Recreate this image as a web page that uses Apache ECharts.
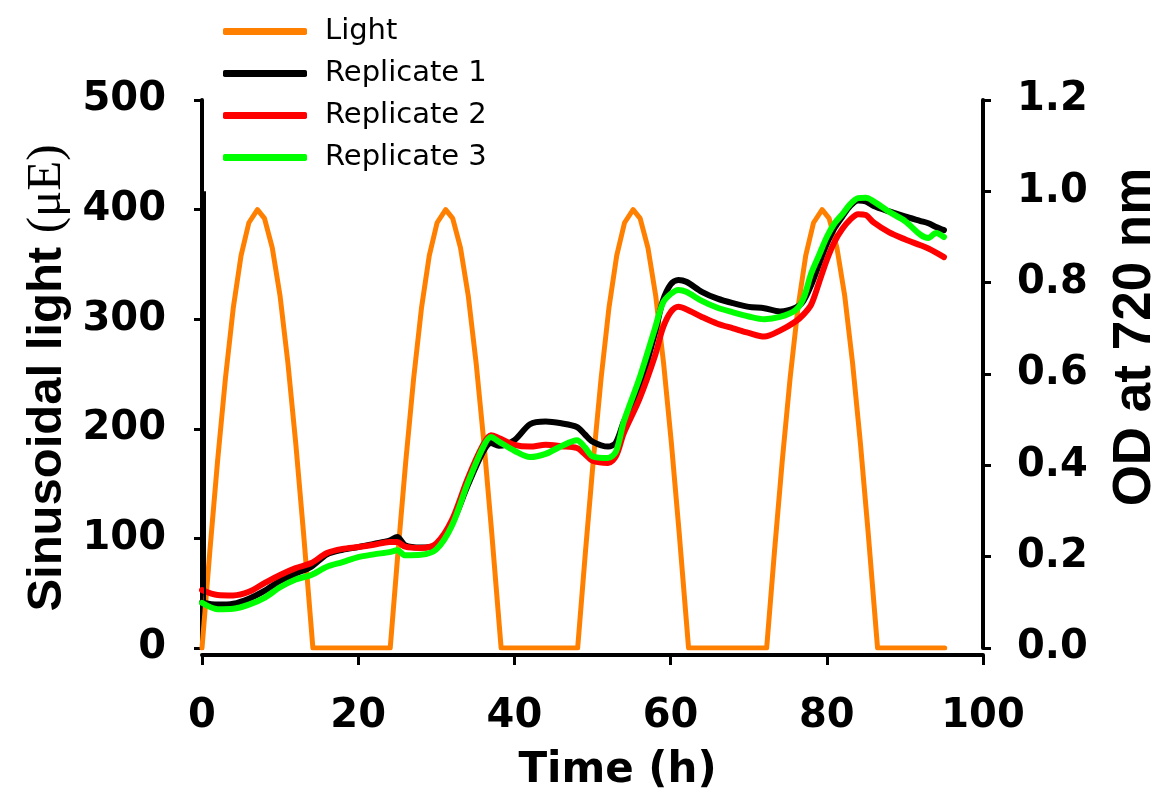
<!DOCTYPE html>
<html>
<head>
<meta charset="utf-8">
<script src="https://cdn.jsdelivr.net/npm/echarts@6/dist/echarts.min.js"></script>
<style>
html,body{margin:0;padding:0;background:#fff;overflow:hidden;}
#chart{width:1158px;height:806px;}
</style>
</head>
<body>
<div id="chart"></div>
<script>
// ---- Data ----
const seriesNames = ['Light', 'Replicate 1', 'Replicate 2', 'Replicate 3'];

// Light (µE) : time (h) and value
const lightTime = [0, 1, 2, 3, 4, 5, 6, 7.1, 8, 9, 10, 11, 12, 13, 14.2,
  24.1, 25.1, 26.1, 27.1, 28.1, 29.1, 30.1, 31.2, 32.1, 33.1, 34.1, 35.1, 36.1, 37.1, 38.3,
  48.1, 49.1, 50.1, 51.1, 52.1, 53.1, 54.1, 55.2, 56.1, 57.1, 58.1, 59.1, 60.1, 61.1, 62.3,
  72.3, 73.3, 74.3, 75.3, 76.3, 77.3, 78.3, 79.4, 80.3, 81.3, 82.3, 83.3, 84.3, 85.3, 86.5,
  95.1];
const lightValue = [0, 88, 171, 246, 310, 358, 388, 400, 392, 365, 321, 260, 187, 105, 0,
  0, 88, 171, 246, 310, 358, 388, 400, 392, 365, 321, 260, 187, 105, 0,
  0, 88, 171, 246, 310, 358, 388, 400, 392, 365, 321, 260, 187, 105, 0,
  0, 88, 171, 246, 310, 358, 388, 400, 392, 365, 321, 260, 187, 105, 0,
  0];

// OD at 720 nm : shared time grid (h)
const odTime = [0, 2, 4, 6, 8, 10, 12, 14, 16, 18, 20, 22, 24, 25, 26, 28, 30, 32, 34, 36, 37,
  38, 40, 42, 44, 46, 48, 49, 50, 52, 53, 54, 56, 58, 59, 60, 61, 62, 64, 66, 68, 70, 72,
  74, 76, 77, 78, 79, 80, 81, 82, 83, 84, 85, 86, 88, 90, 92, 93, 94, 95];
const rep1 = [0.100, 0.095, 0.097, 0.108, 0.125, 0.147, 0.163, 0.178, 0.205, 0.215, 0.221, 0.228, 0.235, 0.243, 0.225, 0.220, 0.225, 0.272, 0.355, 0.430, 0.449,
  0.443, 0.455, 0.490, 0.496, 0.492, 0.484, 0.468, 0.452, 0.441, 0.450, 0.495, 0.570, 0.690, 0.760, 0.796, 0.806, 0.802, 0.780, 0.765, 0.755, 0.747, 0.744,
  0.737, 0.745, 0.760, 0.795, 0.840, 0.885, 0.920, 0.945, 0.968, 0.980, 0.978, 0.968, 0.956, 0.945, 0.935, 0.930, 0.922, 0.915];
const rep2 = [0.127, 0.116, 0.115, 0.123, 0.142, 0.160, 0.175, 0.186, 0.208, 0.217, 0.221, 0.226, 0.232, 0.232, 0.222, 0.219, 0.229, 0.280, 0.370, 0.445, 0.466,
  0.460, 0.445, 0.441, 0.445, 0.442, 0.438, 0.425, 0.410, 0.405, 0.420, 0.470, 0.545, 0.640, 0.700, 0.735, 0.747, 0.742, 0.725, 0.710, 0.700, 0.690, 0.682,
  0.695, 0.715, 0.730, 0.752, 0.800, 0.850, 0.890, 0.918, 0.938, 0.950, 0.948, 0.932, 0.910, 0.895, 0.882, 0.875, 0.866, 0.856];
const rep3 = [0.099, 0.085, 0.086, 0.095, 0.110, 0.133, 0.150, 0.160, 0.178, 0.188, 0.199, 0.205, 0.210, 0.214, 0.203, 0.204, 0.216, 0.268, 0.360, 0.440, 0.462,
  0.452, 0.432, 0.418, 0.425, 0.442, 0.455, 0.440, 0.420, 0.416, 0.430, 0.495, 0.590, 0.700, 0.755, 0.775, 0.784, 0.780, 0.760, 0.745, 0.735, 0.726, 0.720,
  0.725, 0.740, 0.765, 0.820, 0.860, 0.900, 0.930, 0.950, 0.972, 0.985, 0.986, 0.978, 0.955, 0.935, 0.905, 0.898, 0.909, 0.900];

// Axis ticks
const xTicks = [0, 20, 40, 60, 80, 100];
const leftTicks = [0, 100, 200, 300, 400, 500];
const rightTicks = [0.0, 0.2, 0.4, 0.6, 0.8, 1.0, 1.2];

const colors = { light: '#FF8000', r1: '#000000', r2: '#FF0000', r3: '#00FF00' };

function pairs(xs, ys) { return xs.map((x, i) => [x, ys[i]]); }

const chart = echarts.init(document.getElementById('chart'), null, { renderer: 'canvas', width: 1158, height: 806 });

const labelFont = { fontFamily: 'DejaVu Sans', fontWeight: 'bold', fontSize: 40, color: '#000' };
const axisLine = { show: true, onZero: false, lineStyle: { color: '#000', width: 4, cap: 'round' } };

const option = {
  backgroundColor: '#fff',
  animation: false,
  grid: { left: 202, right: 175, top: 100, bottom: 158, containLabel: false, outerBoundsMode: 'none' },
  legend: {
    data: seriesNames,
    orient: 'vertical',
    left: 218, top: 12,
    itemWidth: 84, itemHeight: 7, itemGap: 13,
    icon: 'roundRect',
    textStyle: { fontFamily: 'DejaVu Sans', fontSize: 29, color: '#000', padding: [0, 0, 0, 13] }
  },
  xAxis: {
    type: 'value', min: xTicks[0], max: xTicks[xTicks.length - 1], interval: 20,
    offset: 7,
    axisLine: axisLine,
    axisTick: { show: true, inside: false, length: 10, lineStyle: { color: '#000', width: 3 } },
    axisLabel: Object.assign({ margin: 42 }, labelFont),
    splitLine: { show: false },
    name: 'Time (h)', nameLocation: 'middle', nameGap: 95,
    nameTextStyle: { fontFamily: 'DejaVu Sans', fontWeight: 'bold', fontSize: 42, color: '#000', padding: [0, 0, 0, 50] }
  },
  yAxis: [
    {
      type: 'value', position: 'left', min: leftTicks[0], max: leftTicks[leftTicks.length - 1], interval: 100,
      axisLine: axisLine,
      axisTick: { show: true, inside: false, length: 8, lineStyle: { color: '#000', width: 3 } },
      axisLabel: Object.assign({ margin: 36 }, labelFont),
      splitLine: { show: false },
      name: 'Sinusoidal light {s|(\u03bcE)}', nameLocation: 'middle', nameGap: 128,
      nameTextStyle: {
        fontFamily: 'Liberation Sans', fontWeight: 'bold', fontSize: 49, color: '#000', padding: [0, 8, 0, 0],
        rich: { s: { fontFamily: 'Liberation Serif', fontWeight: 'normal', fontSize: 49, color: '#000' } }
      }
    },
    {
      type: 'value', position: 'right', min: rightTicks[0], max: rightTicks[rightTicks.length - 1], interval: 0.2,
      axisLine: axisLine,
      axisTick: { show: true, inside: false, length: 8, lineStyle: { color: '#000', width: 3 } },
      axisLabel: Object.assign({ margin: 34, formatter: v => v.toFixed(1) }, labelFont),
      splitLine: { show: false },
      name: 'OD at 720 nm', nameLocation: 'middle', nameGap: 126,
      nameTextStyle: { fontFamily: 'Liberation Sans', fontWeight: 'bold', fontSize: 53, color: '#000', padding: [0, 0, 0, 74] }
    }
  ],
  series: [
    {
      name: 'Light', type: 'line', yAxisIndex: 0, data: pairs(lightTime, lightValue),
      showSymbol: false, symbol: 'none', color: colors.light,
      lineStyle: { color: colors.light, width: 5, join: 'round', cap: 'round' }, z: 2
    },
    {
      name: 'Replicate 1', type: 'line', yAxisIndex: 1, data: pairs(odTime, rep1),
      showSymbol: false, symbol: 'none', smooth: 0.3, color: colors.r1,
      lineStyle: { color: colors.r1, width: 6, join: 'round', cap: 'round' }, z: 3,
      markLine: {
        silent: true, symbol: 'none', label: { show: false },
        lineStyle: { color: '#000', width: 2, type: 'solid' },
        data: [[{ coord: [0.3, 1.0] }, { coord: [0.3, 0.1] }]]
      }
    },
    {
      name: 'Replicate 2', type: 'line', yAxisIndex: 1, data: pairs(odTime, rep2),
      showSymbol: false, symbol: 'none', smooth: 0.3, color: colors.r2,
      lineStyle: { color: colors.r2, width: 6, join: 'round', cap: 'round' }, z: 4
    },
    {
      name: 'Replicate 3', type: 'line', yAxisIndex: 1, data: pairs(odTime, rep3),
      showSymbol: false, symbol: 'none', smooth: 0.3, color: colors.r3,
      lineStyle: { color: colors.r3, width: 6, join: 'round', cap: 'round' }, z: 5
    }
  ]
};
chart.setOption(option);
</script>
</body>
</html>
